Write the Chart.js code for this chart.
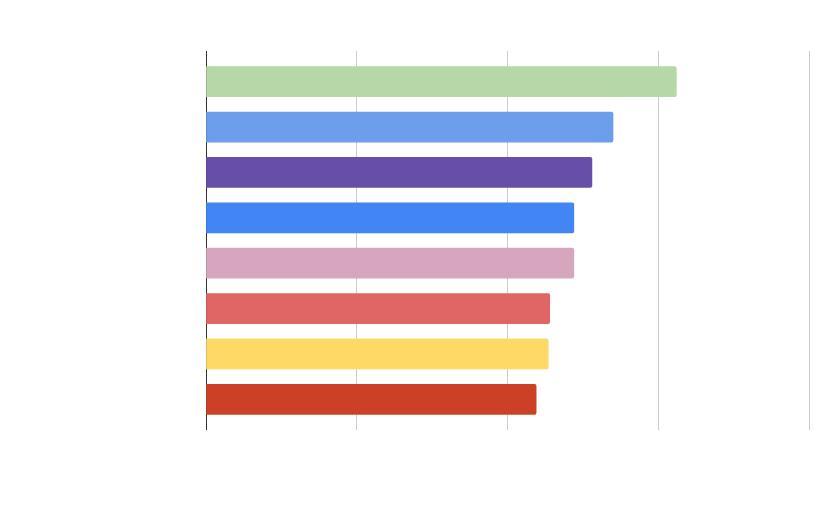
<!DOCTYPE html>
<html>
<head>
<meta charset="utf-8">
<script src="https://cdn.jsdelivr.net/npm/chart.js@4.4.1/dist/chart.umd.min.js"></script>
<style>
  html, body { margin: 0; padding: 0; background: #ffffff; }
  #wrap { width: 837px; height: 506px; position: relative; }
</style>
</head>
<body>
<div id="wrap"><canvas id="phaseChart"></canvas></div>
<script>
// --- DATA ---
const phaseLabels = ['New Moon', 'Waxing Crescent', 'Waxing Gibbous', 'First Quarter',
                     'Waning Gibbous', 'Last Quarter', 'Full Moon', 'Waning Crescent'];
const phaseValues = [15.6, 13.5, 12.8, 12.2, 12.2, 11.4, 11.35, 10.95];
const phaseColors = ['#b6d7a8', '#6d9eeb', '#674ea7', '#4285f4',
                     '#d5a6bd', '#e06666', '#ffd966', '#cc4125'];
const xTicks = [0, 5, 10, 15, 20];
const axisTitle = 'Share of sightings (%)';

// label text is white on white in the original
const TEXT_COLOR = '#ffffff';

const ctx = document.getElementById('phaseChart').getContext('2d');

// zero line dark, the rest light grey
const gridColor = c => (c.tick && c.tick.value === 0) ? '#333333' : '#cccccc';

new Chart(ctx, {
    type: 'bar',
    data: {
        labels: phaseLabels,
        datasets: [{
            data: phaseValues,
            backgroundColor: phaseColors,
            borderWidth: 0,
            borderRadius: 2,
            borderSkipped: 'start',
            barThickness: 30
        }]
    },
    options: {
        indexAxis: 'y',
        responsive: true,
        maintainAspectRatio: false,
        animation: false,
        layout: { padding: { top: 51, right: 28, left: 0, bottom: 0 } },
        plugins: { legend: { display: false }, tooltip: { enabled: false } },
        scales: {
            x: {
                position: 'bottom',
                min: xTicks[0],
                max: xTicks[xTicks.length - 1],
                afterBuildTicks: s => { s.ticks = xTicks.map(v => ({ value: v })); },
                grid: { color: gridColor, lineWidth: 1, tickLength: 8, drawTicks: true },
                border: { display: false },
                ticks: { color: TEXT_COLOR, font: { family: 'Liberation Sans', size: 14 } },
                title: { display: true, text: axisTitle, color: TEXT_COLOR,
                         font: { family: 'Liberation Sans', size: 16 } },
                afterFit: s => { s.height = 84; }
            },
            xTop: {
                type: 'linear',
                axis: 'x',
                position: 'top',
                min: xTicks[0],
                max: xTicks[xTicks.length - 1],
                afterBuildTicks: s => { s.ticks = xTicks.map(v => ({ value: v })); },
                grid: { color: gridColor, drawOnChartArea: false, tickLength: 8 },
                border: { display: false },
                ticks: { display: false },
                afterFit: s => { s.height = 8; }
            },
            y: {
                grid: { display: false },
                border: { display: true, color: '#333333' },
                ticks: { color: TEXT_COLOR, padding: 13,
                         font: { family: 'Liberation Sans', size: 17 } },
                afterFit: s => { s.width = 206; }
            }
        }
    }
});
</script>
</body>
</html>
